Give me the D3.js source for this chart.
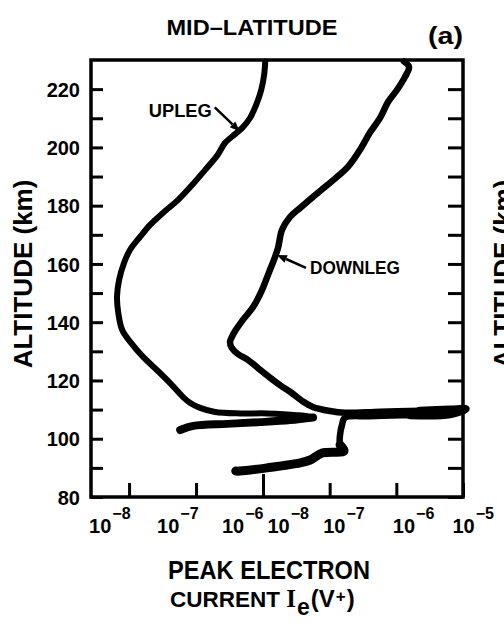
<!DOCTYPE html>
<html>
<head>
<meta charset="utf-8">
<script src="https://cdn.jsdelivr.net/npm/d3@7"></script>
<style>
  html, body { margin: 0; padding: 0; background: #fff; overflow: hidden; }
  svg { display: block; }
  text { font-family: "Liberation Sans", Arial, sans-serif; font-weight: bold; fill: #000; }
</style>
</head>
<body>
<svg id="chart" width="504" height="623"></svg>
<script>
// Upleg profile, in flight order: altitude (km) and peak electron current (A)
const uplegAlt = [103.0, 104.4, 105.1, 105.7, 106.4, 107.3, 108.1, 108.7, 108.7, 109.2,
  110.6, 112.3, 114.3, 119.1, 123.6, 128.1, 132.9, 137.3, 143.2, 148.7,
  154.5, 160.3, 164.8, 169.3, 173.4, 177.5, 182.0, 187.1, 192.3, 197.4,
  201.5, 204.3, 206.7, 210.1, 214.6, 219.7, 224.9, 229.5];
const uplegCurrent = [5.8e-8, 9.1e-8, 2.9e-7, 9.1e-7, 2.55e-6, 5.6e-6, 3.2e-6, 1.16e-6, 4.6e-7, 1.93e-7,
  1.15e-7, 8.2e-8, 6.4e-8, 4.1e-8, 2.6e-8, 1.62e-8, 1.07e-8, 7.9e-9, 6.9e-9, 6.6e-9,
  7.1e-9, 8.4e-9, 1.03e-8, 1.46e-8, 2.06e-8, 3.2e-8, 5.4e-8, 8.75e-8, 1.37e-7, 2.1e-7,
  2.7e-7, 3.7e-7, 4.9e-7, 6.4e-7, 7.9e-7, 9.4e-7, 1.04e-6, 1.08e-6];

// Downleg profile, in flight order (descending)
const downlegAlt = [229.5, 227.6, 224.2, 219.7, 215.6, 210.1, 205.0, 199.1, 193.3, 189.9,
  186.4, 183.0, 179.2, 176.1, 171.7, 165.5, 161.4, 157.9, 154.5, 151.1,
  145.2, 140.8, 137.3, 134.9, 133.2, 131.2, 129.1, 127.0, 124.3, 121.5,
  118.4, 115.7, 113.0, 110.9, 109.5, 108.9, 109.3, 109.6, 110.0, 110.2,
  108.4, 108.1, 107.7, 107.2, 104.7, 101.3, 97.9, 95.8, 95.1, 92.7,
  91.7, 90.0, 88.9, 88.9];
const downlegCurrent = [1.30e-6, 1.55e-6, 1.35e-6, 1.02e-6, 7.5e-7, 5.7e-7, 4.0e-7, 2.84e-7, 1.88e-7, 1.29e-7,
  8.5e-8, 5.6e-8, 3.6e-8, 2.54e-8, 1.93e-8, 1.68e-8, 1.46e-8, 1.27e-8, 1.11e-8, 9.7e-9,
  7.1e-9, 5.0e-9, 3.9e-9, 3.4e-9, 3.2e-9, 3.4e-9, 4.2e-9, 6.0e-9, 8.4e-9, 1.19e-8,
  1.8e-8, 2.7e-8, 3.85e-8, 5.6e-8, 1.01e-7, 1.69e-7, 5.7e-7, 2.26e-6, 6.4e-6, 1.10e-5,
  6.4e-6, 1.6e-6, 4.0e-7, 1.69e-7, 1.53e-7, 1.43e-7, 1.43e-7, 1.64e-7, 7.7e-8, 5.1e-8,
  3.6e-8, 1.15e-8, 4.5e-9, 3.9e-9];

// Axis ticks and labels
const altTicks = [80, 90, 100, 110, 120, 130, 140, 150, 160, 170, 180, 190, 200, 210, 220];
const altLabels = [80, 100, 120, 140, 160, 180, 200, 220];
const uplegTicks = [1e-8, 1e-7, 1e-6];
const downlegTicks = [1e-8, 1e-7, 1e-6, 1e-5];

// Layout
const frame = { left: 91, right: 463, top: 60, bottom: 497, split: 263 };
const uplegLabelDx = [1, 2, 0];          // label end relative to tick
const downlegLabelDx = [4, -7, -4, -11]; // label start relative to tick

const svg = d3.select("#chart");

const y = d3.scaleLinear().domain([80, 230]).range([frame.bottom, frame.top]);
const xUp = d3.scaleLog().domain([2.7e-9, 1e-6]).range([frame.left, frame.split]);
const xDown = d3.scaleLog().domain([1e-8, 1e-5]).range([frame.split, frame.right]);

// ---- Titles ----
svg.append("text").attr("x", 252).attr("y", 35).attr("text-anchor", "middle")
  .attr("font-size", 22).attr("textLength", 171).attr("lengthAdjust", "spacingAndGlyphs")
  .text("MID\u2013LATITUDE");
svg.append("text").attr("x", 428).attr("y", 44)
  .attr("font-size", 24).attr("textLength", 35).attr("lengthAdjust", "spacingAndGlyphs")
  .text("(a)");

// ---- Altitude axes ----
const gLeft = svg.append("g").attr("transform", `translate(${frame.left},0)`)
  .call(d3.axisLeft(y).tickValues(altTicks).tickSizeInner(-12).tickSizeOuter(0).tickPadding(11)
    .tickFormat(d => altLabels.includes(d) ? d : ""));
gLeft.attr("font-size", 20).attr("font-family", null);
gLeft.select(".domain").remove();
gLeft.selectAll(".tick line").attr("stroke", "#000").attr("stroke-width", 3);
gLeft.selectAll(".tick text").attr("dy", "0.36em");

const gRight = svg.append("g").attr("transform", `translate(${frame.right},0)`)
  .call(d3.axisRight(y).tickValues(altTicks).tickSizeInner(-15).tickSizeOuter(0).tickFormat(""));
gRight.select(".domain").remove();
gRight.selectAll(".tick line").attr("stroke", "#000").attr("stroke-width", 3);

// ---- Current axes (two log scales side by side) ----
function powerLabels(g, ticks, anchor, offsets) {
  g.selectAll(".tick").each(function (d, i) {
    const t = d3.select(this).append("text")
      .attr("text-anchor", anchor).attr("x", offsets[i]).attr("y", 36);
    t.append("tspan").attr("font-size", 20).text("10");
    t.append("tspan").attr("font-size", 16).attr("dx", 1).attr("dy", -14)
      .text("\u2212" + Math.abs(Math.round(Math.log10(d))));
  });
}

const gUp = svg.append("g").attr("transform", `translate(0,${frame.bottom})`)
  .call(d3.axisBottom(xUp).tickValues(uplegTicks).tickSizeInner(-14).tickSizeOuter(0).tickFormat(""));
gUp.select(".domain").remove();
gUp.selectAll(".tick line").attr("stroke", "#000").attr("stroke-width", 3)
  .attr("y2", d => d === 1e-6 ? -23 : -14);
powerLabels(gUp, uplegTicks, "end", uplegLabelDx);

const gDown = svg.append("g").attr("transform", `translate(0,${frame.bottom})`)
  .call(d3.axisBottom(xDown).tickValues(downlegTicks).tickSizeInner(-14).tickSizeOuter(0).tickFormat(""));
gDown.select(".domain").remove();
gDown.selectAll(".tick line").attr("stroke", "#000").attr("stroke-width", 3)
  .attr("y2", d => d === 1e-8 ? -23 : -14);
powerLabels(gDown, downlegTicks, "start", downlegLabelDx);

// ---- Axis titles ----
const altTitle = "ALTITUDE (km)";
svg.append("text").attr("transform", "translate(32,274) rotate(-90)")
  .attr("text-anchor", "middle").attr("font-size", 26).text(altTitle);
// neighbouring panel's axis title, running off the page edge
svg.append("text").attr("transform", "translate(512,274) rotate(-90)")
  .attr("text-anchor", "middle").attr("font-size", 26).text(altTitle);

svg.append("text").attr("x", 269).attr("y", 579).attr("text-anchor", "middle")
  .attr("font-size", 25).attr("textLength", 202).attr("lengthAdjust", "spacingAndGlyphs")
  .text("PEAK ELECTRON");
const cur = svg.append("text").attr("x", 170).attr("y", 607).attr("font-size", 22.5);
cur.append("tspan").text("CURRENT ");
cur.append("tspan").attr("font-family", "'Liberation Serif', serif").attr("font-size", 25).text("I");
cur.append("tspan").attr("font-size", 23).attr("dx", 1).attr("dy", 8).text("e");
cur.append("tspan").attr("font-size", 24).attr("dx", 1).attr("dy", -8).text("(V");
cur.append("tspan").attr("font-size", 17).attr("dx", 1).attr("dy", -5).text("+");
cur.append("tspan").attr("font-size", 24).attr("dx", 1).attr("dy", 5).text(")");

// ---- Profiles ----
const upleg = uplegAlt.map((a, i) => [a, uplegCurrent[i]]);
const downleg = downlegAlt.map((a, i) => [a, downlegCurrent[i]]);

const lineFor = xs => d3.line()
  .x(d => xs(d[1])).y(d => y(d[0]))
  .curve(d3.curveCatmullRom.alpha(0.5));

function trace(data, xs, width) {
  svg.append("path").datum(data).attr("d", lineFor(xs))
    .attr("fill", "none").attr("stroke", "#000").attr("stroke-width", width)
    .attr("stroke-linejoin", "round").attr("stroke-linecap", "round");
}

trace(upleg, xUp, 6);
trace(upleg.slice(0, 6), xUp, 8);       // heavier low-altitude return of the upleg
trace(downleg, xDown, 6.5);
trace(downleg.slice(37, 42), xDown, 8); // saturated layer crossing
trace(downleg.slice(46), xDown, 9);     // heavier lowest part of the downleg

// ---- Frame ----
svg.append("rect")
  .attr("x", frame.left).attr("y", frame.top)
  .attr("width", frame.right - frame.left).attr("height", frame.bottom - frame.top)
  .attr("fill", "none").attr("stroke", "#000").attr("stroke-width", 3.5);

// ---- Annotations ----
function arrow(tipX, tipY, tailX, tailY) {
  const ang = Math.atan2(tipY - tailY, tipX - tailX);
  const len = 10, half = 4;
  const bx = tipX - len * Math.cos(ang), by = tipY - len * Math.sin(ang);
  svg.append("line").attr("x1", tailX).attr("y1", tailY).attr("x2", bx).attr("y2", by)
    .attr("stroke", "#000").attr("stroke-width", 2.5);
  svg.append("path")
    .attr("d", `M${tipX},${tipY}L${bx + half * Math.sin(ang)},${by - half * Math.cos(ang)}` +
               `L${bx - half * Math.sin(ang)},${by + half * Math.cos(ang)}Z`)
    .attr("fill", "#000");
}

const upTipX = xUp(4.5e-7), upTipY = y(205.5);
arrow(upTipX, upTipY, upTipX - 25, upTipY - 24);
svg.append("text").attr("x", upTipX - 91).attr("y", upTipY - 14)
  .attr("font-size", 19).attr("textLength", 63).attr("lengthAdjust", "spacingAndGlyphs")
  .text("UPLEG");

const downTipX = xDown(1.62e-8), downTipY = y(163.1);
arrow(downTipX, downTipY, downTipX + 29, downTipY + 13);
svg.append("text").attr("x", downTipX + 33).attr("y", downTipY + 19)
  .attr("font-size", 19).attr("textLength", 90).attr("lengthAdjust", "spacingAndGlyphs")
  .text("DOWNLEG");
</script>
</body>
</html>
